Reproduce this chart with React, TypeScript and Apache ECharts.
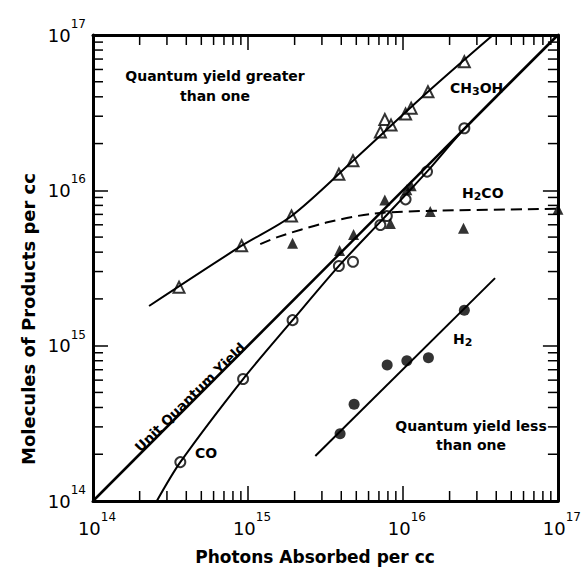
import React, { useEffect, useRef } from 'react';
import * as echarts from 'echarts';

// ---- data (photons absorbed per cc, molecules per cc) ----
const UNIT_YIELD = [[1e14, 1e14], [1e17, 1e17]];

const CO_POINTS = [
  [3.66e14, 1.78e14], [9.3e14, 6.1e14], [1.94e15, 1.46e15], [3.86e15, 3.26e15],
  [4.76e15, 3.47e15], [7.15e15, 5.98e15], [7.87e15, 6.84e15], [1.04e16, 8.75e15],
  [1.43e16, 1.32e16], [2.49e16, 2.51e16],
];
const CO_CURVE = [
  [2.58e14, 1e14], [3.66e14, 1.78e14], [9.3e14, 6.1e14], [1.94e15, 1.46e15],
  [3.9e15, 3.3e15], [7.5e15, 6.6e15], [1.43e16, 1.32e16], [2.5e16, 2.5e16], [1e17, 1e17],
];

const CH3OH_POINTS = [
  [3.59e14, 2.38e15], [9.1e14, 4.4e15], [1.91e15, 6.84e15], [3.86e15, 1.27e16],
  [4.76e15, 1.55e16], [7.15e15, 2.37e16], [7.64e15, 2.86e16], [8.38e15, 2.63e16],
  [1.04e16, 3.1e16], [1.13e16, 3.38e16], [1.45e16, 4.31e16], [2.49e16, 6.73e16],
];
const CH3OH_CURVE = [
  [2.3e14, 1.8e15], [9.1e14, 4.4e15], [1.91e15, 6.84e15], [4.76e15, 1.55e16],
  [1.45e16, 4.31e16], [3.81e16, 1e17],
];

const H2CO_POINTS = [
  [1.94e15, 4.56e15], [3.9e15, 4.1e15], [4.8e15, 5.2e15], [7.64e15, 8.67e15],
  [8.3e15, 6.12e15], [1.06e16, 1.01e16], [1.13e16, 1.07e16], [1.5e16, 7.3e15],
  [2.46e16, 5.7e15], [1e17, 7.55e15],
];
const H2CO_CURVE = [
  [1.2e15, 4.5e15], [1.55e15, 5.0e15], [3.2e15, 6.2e15], [6.6e15, 7.1e15],
  [1.75e16, 7.4e15], [1e17, 7.6e15],
];

const H2_POINTS = [
  [3.93e15, 2.71e14], [4.84e15, 4.19e14], [7.91e15, 7.5e14], [1.06e16, 8.0e14],
  [1.46e16, 8.36e14], [2.49e16, 1.69e15],
];
const H2_LINE = [[2.72e15, 1.95e14], [3.93e16, 2.72e15]];

const AXIS_MIN = 1e14;
const AXIS_MAX = 1e17;
const MINOR_MULTIPLIERS = [2, 3, 4, 5, 6, 7, 8, 9];
const DECADES = [1e14, 1e15, 1e16];

const FONT = '"DejaVu Sans", "Liberation Sans", sans-serif';

export default function App() {
  const ref = useRef<HTMLDivElement>(null);

  useEffect(() => {
    if (!ref.current) return;
    const chart = echarts.init(ref.current, null, { renderer: 'svg' });

    const minorTicks: number[][] = [];
    DECADES.forEach((d) => MINOR_MULTIPLIERS.forEach((m) => minorTicks.push([m * d, m * d])));

    const label = {
      show: true,
      formatter: (v: number) => `{b|10}{e|${Math.round(Math.log10(v))}}`,
      rich: {
        b: { fontSize: 18, lineHeight: 34, fontFamily: FONT, color: '#000' },
        e: { fontSize: 12, lineHeight: 12, verticalAlign: 'top', fontFamily: FONT, color: '#000' },
      },
    };

    const axisBase: any = {
      type: 'log',
      logBase: 10,
      min: AXIS_MIN,
      max: AXIS_MAX,
      axisLine: { show: true, onZero: false, lineStyle: { color: '#000', width: 3 } },
      axisTick: { show: true, inside: true, length: 15, lineStyle: { color: '#000', width: 1.5 } },
      splitLine: { show: false },
      minorTick: { show: false },
      minorSplitLine: { show: false },
    };

    const lineS = (data: number[][], extra: any = {}) => ({
      type: 'line',
      data,
      symbol: 'none',
      silent: true,
      lineStyle: { color: '#000', width: 2 },
      ...extra,
    });

    const option: any = {
      animation: false,
      backgroundColor: '#fff',
      grid: { left: 93, right: 18, top: 35, bottom: 68 },
      xAxis: [
        { ...axisBase, position: 'bottom', axisLabel: { ...label, margin: 10, padding: [0, 0, 0, 8] } },
        { ...axisBase, position: 'top', axisLabel: { show: false } },
      ],
      yAxis: [
        { ...axisBase, position: 'left', axisLabel: { ...label, margin: 7 } },
        { ...axisBase, position: 'right', axisLabel: { show: false } },
      ],
      series: [
        {
          type: 'custom',
          silent: true,
          clip: false,
          data: minorTicks,
          encode: { x: 0, y: 1 },
          renderItem: (params: any, api: any) => {
            const v = api.value(0);
            const b = api.coord([v, AXIS_MIN]);
            const t = api.coord([v, AXIS_MAX]);
            const l = api.coord([AXIS_MIN, v]);
            const r = api.coord([AXIS_MAX, v]);
            const L = 10;
            const st = { stroke: '#000', lineWidth: 1.5 };
            return {
              type: 'group',
              children: [
                { type: 'line', shape: { x1: b[0], y1: b[1], x2: b[0], y2: b[1] - L }, style: st },
                { type: 'line', shape: { x1: t[0], y1: t[1], x2: t[0], y2: t[1] + L }, style: st },
                { type: 'line', shape: { x1: l[0], y1: l[1], x2: l[0] + L, y2: l[1] }, style: st },
                { type: 'line', shape: { x1: r[0], y1: r[1], x2: r[0] - L, y2: r[1] }, style: st },
              ],
            };
          },
        },
        lineS(UNIT_YIELD, { lineStyle: { color: '#000', width: 2.5 } }),
        lineS(CO_CURVE, { smooth: 0.3 }),
        lineS(CH3OH_CURVE, { smooth: 0.3 }),
        lineS(H2CO_CURVE, { smooth: 0.3, lineStyle: { color: '#000', width: 2, type: [11, 6] } }),
        lineS(H2_LINE),
        {
          type: 'scatter', data: CO_POINTS, symbol: 'circle', symbolSize: 10, clip: false, silent: true,
          itemStyle: { color: '#fff', borderColor: '#000', borderWidth: 2 },
        },
        {
          type: 'scatter', data: CH3OH_POINTS, symbol: 'triangle', symbolSize: 11, clip: false, silent: true,
          itemStyle: { color: '#fff', borderColor: '#000', borderWidth: 2 },
        },
        {
          type: 'scatter', data: H2CO_POINTS, symbol: 'triangle', symbolSize: 11, clip: false, silent: true,
          itemStyle: { color: '#000' },
        },
        {
          type: 'scatter', data: H2_POINTS, symbol: 'circle', symbolSize: 11, clip: false, silent: true,
          itemStyle: { color: '#000' },
        },
      ],
      graphic: [
        {
          type: 'text', x: 28, y: 319, rotation: Math.PI / 2,
          style: { text: 'Molecules of Products per cc', align: 'center', verticalAlign: 'middle', fontSize: 18, fontWeight: 'bold', fontFamily: FONT, fill: '#000' },
        },
        {
          type: 'text', x: 315, y: 557,
          style: { text: 'Photons Absorbed per cc', align: 'center', verticalAlign: 'middle', fontSize: 17, fontWeight: 'bold', fontFamily: FONT, fill: '#000' },
        },
        {
          type: 'text', x: 215, y: 86,
          style: { text: 'Quantum yield greater\nthan one', align: 'center', verticalAlign: 'middle', lineHeight: 20, fontSize: 14, fontWeight: 'bold', fontFamily: FONT, fill: '#000' },
        },
        {
          type: 'text', x: 471, y: 435,
          style: { text: 'Quantum yield less\nthan one', align: 'center', verticalAlign: 'middle', lineHeight: 19, fontSize: 14, fontWeight: 'bold', fontFamily: FONT, fill: '#000' },
        },
        {
          type: 'text', x: 190, y: 397, rotation: 0.778,
          style: { text: 'Unit Quantum Yield', align: 'center', verticalAlign: 'middle', fontSize: 13.5, fontWeight: 'bold', fontFamily: FONT, fill: '#000' },
        },
        {
          type: 'text', x: 195, y: 453,
          style: { text: 'CO', align: 'left', verticalAlign: 'middle', fontSize: 14, fontWeight: 'bold', fontFamily: FONT, fill: '#000' },
        },
        ...[
          { x: 450, y: 81, t: '{n|CH}{s|3}{n|OH}' },
          { x: 462, y: 186, t: '{n|H}{s|2}{n|CO}' },
          { x: 453, y: 332, t: '{n|H}{s|2}' },
        ].map((o) => ({
          type: 'text', x: o.x, y: o.y,
          style: {
            text: o.t, align: 'left', verticalAlign: 'top', fill: '#000',
            rich: {
              n: { fontSize: 14, lineHeight: 16, verticalAlign: 'top', fontWeight: 'bold', fontFamily: FONT, fill: '#000' },
              s: { fontSize: 11, lineHeight: 12, padding: [10, 0, 0, 0], verticalAlign: 'bottom', fontWeight: 'bold', fontFamily: FONT, fill: '#000' },
            },
          },
        })),
      ],
    };

    chart.setOption(option);
    return () => chart.dispose();
  }, []);

  return <div ref={ref} style={{ position: 'absolute', left: 0, top: 0, width: 584, height: 569 }} />;
}
